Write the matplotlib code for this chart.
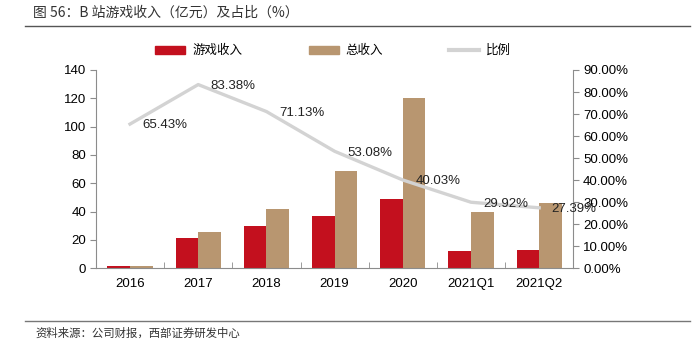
import matplotlib
matplotlib.use('Agg')
from matplotlib import pyplot as plt
from matplotlib.lines import Line2D
from matplotlib.patches import Patch
import numpy as np

plt.rcParams['font.family'] = ['Liberation Sans', 'Noto Sans CJK SC', 'DejaVu Sans']

# 数据
categories = ['2016', '2017', '2018', '2019', '2020', '2021Q1', '2021Q2']
game_rev = [1.5, 21.2, 30.0, 36.5, 48.5, 12.2, 12.8]
total_rev = [1.8, 25.5, 42.0, 68.5, 120.0, 39.8, 45.8]
ratio = [65.43, 83.38, 71.13, 53.08, 40.03, 29.92, 27.39]
ratio_labels = ['65.43%', '83.38%', '71.13%', '53.08%', '40.03%', '29.92%', '27.39%']

red = '#C3101E'
tan = '#B89670'
gray_line = '#D3D3D3'
spine = '#8C8C8C'

fig = plt.figure(figsize=(7, 3.5), dpi=100)
ax = fig.add_axes([0.137, 0.234, 0.682, 0.566])
x = np.arange(len(categories))
w = 0.33

ax.bar(x - w / 2, game_rev, w, color=red, zorder=2)
ax.bar(x + w / 2, total_rev, w, color=tan, zorder=2)
ax.set_xlim(-0.5, len(categories) - 0.5)
ax.set_ylim(0, 140)
ax.set_yticks(range(0, 141, 20))
ax.set_xticks(x)
ax.set_xticklabels(categories)
ax.set_xticks(np.arange(-0.5, len(categories), 1), minor=True)
ax.tick_params(axis='x', which='major', length=0, pad=7, labelsize=9.5)
ax.tick_params(axis='x', which='minor', length=4, color=spine, direction='in')
ax.tick_params(axis='y', length=4, color=spine, labelsize=9.5, pad=3)
for s in ['top', 'right']:
    ax.spines[s].set_visible(False)
for s in ['left', 'bottom']:
    ax.spines[s].set_color(spine)

ax2 = ax.twinx()
ax2.plot(x, ratio, color=gray_line, lw=2.4, zorder=3)
ax2.set_ylim(0, 90)
ax2.set_yticks(range(0, 91, 10))
ax2.set_yticklabels(['%.2f%%' % v for v in range(0, 91, 10)])
ax2.tick_params(axis='y', length=4, color=spine, labelsize=9.5, pad=3)
for s in ['top', 'left', 'bottom']:
    ax2.spines[s].set_visible(False)
ax2.spines['right'].set_color(spine)
# 数据标签（最后一个在原图中也与右轴刻度重叠）
for xi, yi, lb in zip(x, ratio, ratio_labels):
    ax2.annotate(lb, (xi, yi), xytext=(9, -1), textcoords='offset points',
                 ha='left', va='center', fontsize=9.5, color='#222222', zorder=4)

handles = [Patch(color=red), Patch(color=tan), Line2D([], [], color=gray_line, lw=3)]
fig.legend(handles, ['游戏收入', '总收入', '比例'], loc='center left', bbox_to_anchor=(0.222, 0.855),
           ncol=3, frameon=False, borderpad=0, borderaxespad=0,
           prop={'family': ['Noto Sans CJK SC'], 'size': 9},
           handlelength=2.4, handleheight=0.7, columnspacing=5.3, handletextpad=0.55)

fig.text(0.047, 0.963, '图 56：B 站游戏收入（亿元）及占比（%）', fontsize=10,
         family=['Noto Sans CJK SC', 'DejaVu Sans'], va='center', color='#333333')
fig.add_artist(Line2D([0.036, 0.986], [0.925, 0.925], color='#555555', lw=1))
fig.add_artist(Line2D([0.036, 0.986], [0.083, 0.083], color='#777777', lw=1))
fig.text(0.05, 0.047, '资料来源：公司财报，西部证券研发中心', fontsize=8.2,
         family=['Noto Sans CJK SC'], va='center', color='#333333')

fig.savefig('out.png', dpi=100)
